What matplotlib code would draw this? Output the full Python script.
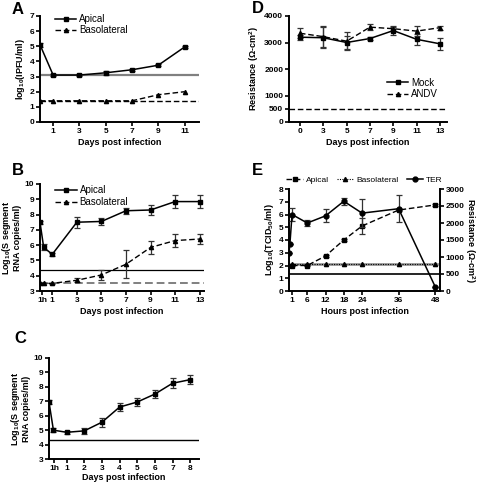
import numpy as np
import matplotlib
matplotlib.use("Agg")
import matplotlib.pyplot as plt

plt.rcParams['font.family'] = ['Liberation Sans', 'DejaVu Sans']
plt.rcParams['font.weight'] = 'bold'
plt.rcParams['axes.labelweight'] = 'bold'
plt.rcParams['mathtext.fontset'] = 'custom'
plt.rcParams['mathtext.rm'] = 'Liberation Sans:bold'
plt.rcParams['mathtext.it'] = 'Liberation Sans:bold'
plt.rcParams['mathtext.bf'] = 'Liberation Sans:bold'
plt.rcParams['mathtext.default'] = 'rm'

# Panel A
a_days = [0, 1, 3, 5, 7, 9, 11]
a_apical = [5.1, 3.1, 3.1, 3.25, 3.45, 3.75, 4.95]
a_apical_err = [0.15, 0.05, 0.05, 0.12, 0.05, 0.05, 0.05]
a_baso = [1.4, 1.4, 1.4, 1.4, 1.4, 1.8, 2.0]
a_limit_apical = 3.1
a_limit_baso = 1.4

# Panel B
b_days = [0, 0.3, 1, 3, 5, 7, 9, 11, 13]
b_apical = [7.5, 5.85, 5.4, 7.5, 7.55, 8.25, 8.3, 8.85, 8.85]
b_apical_err = [0.1, 0.2, 0.1, 0.35, 0.25, 0.2, 0.3, 0.4, 0.4]
b_baso = [3.5, 3.5, 3.5, 3.7, 4.05, 4.75, 5.85, 6.3, 6.4]
b_baso_err = [0.0, 0.0, 0.05, 0.12, 0.35, 0.9, 0.45, 0.45, 0.3]
b_ticks = [0.2, 1, 3, 5, 7, 9, 11, 13]
b_ticklabels = ['1h', '1', '3', '5', '7', '9', '11', '13']
b_limit_apical = 4.35
b_limit_baso = 3.5

# Panel C
c_days = [0, 0.25, 1, 2, 3, 4, 5, 6, 7, 8]
c_vals = [6.95, 5.0, 4.85, 4.95, 5.55, 6.6, 6.95, 7.5, 8.25, 8.5]
c_err = [0.15, 0.15, 0.1, 0.2, 0.3, 0.3, 0.25, 0.3, 0.35, 0.3]
c_ticks = [0.3, 1, 2, 3, 4, 5, 6, 7, 8]
c_ticklabels = ['1h', '1', '2', '3', '4', '5', '6', '7', '8']
c_limit = 4.3

# Panel D
d_days = ['0', '3', '5', '7', '9', '11', '13']
d_mock = [3200, 3180, 3000, 3150, 3450, 3120, 2950]
d_mock_err = [100, 400, 250, 50, 150, 200, 220]
d_andv = [3350, 3220, 3050, 3580, 3520, 3430, 3560]
d_andv_err = [180, 400, 350, 100, 100, 200, 80]
d_limit = 500

# Panel E
e_hours = [1, 6, 12, 18, 24, 36, 48]
e_apical = [2.0, 2.0, 2.75, 4.0, 5.1, 6.35, 6.75]
e_apical_err = [0.05, 0.05, 0.05, 0.05, 0.6, 0.05, 0.05]
e_baso = [2.1, 2.1, 2.1, 2.1, 2.1, 2.1, 2.1]
e_ter_hours = [0, 0.3, 1, 6, 12, 18, 24, 36, 48]
e_ter = [1125, 1390, 2250, 2000, 2210, 2640, 2290, 2420, 130]
e_ter_err = [0, 0, 200, 80, 190, 110, 420, 390, 0]
e_limit_baso = 2.1
e_limit_ter = 500

W, H = 480, 483
fig = plt.figure(figsize=(4.8, 4.83), dpi=100)

LAB = 6.5
LEG = dict(weight='normal', size=7)


def box(x0, x1, y0, y1):
    return [x0 / W, 1 - y1 / H, (x1 - x0) / W, (y1 - y0) / H]


def style(ax, right=False):
    ax.spines['top'].set_visible(False)
    if not right:
        ax.spines['right'].set_visible(False)
    for s in ax.spines.values():
        s.set_linewidth(1.4)
    ax.tick_params(direction='out', length=3, width=1.2, labelsize=6, pad=1.2)
    for lab in ax.get_xticklabels() + ax.get_yticklabels():
        lab.set_fontweight('bold')


def letter(x, y, s):
    fig.text(x / W, 1 - y / H, s, fontsize=12, fontweight='bold', va='top', ha='left')


ek = dict(capsize=2.2, elinewidth=0.9, capthick=0.9, ecolor='#333333')

# ---- A ----
ax = fig.add_axes(box(40, 199, 16, 122))
ax.axhline(a_limit_apical, color='#808080', lw=1.6, zorder=1)
ax.axhline(a_limit_baso, color='black', lw=1.0, ls=(0, (4, 2)), zorder=1)
h1 = ax.errorbar(a_days, a_apical, yerr=a_apical_err, color='black', marker='s', ms=3.5, lw=1.1, **ek)
h2, = ax.plot(a_days, a_baso, color='black', marker='^', ms=3, lw=1.0, ls=(0, (4, 2)))
ax.set_xlim(0, 12.1)
ax.set_ylim(0, 7)
ax.set_xticks([1, 3, 5, 7, 9, 11])
ax.set_yticks(range(0, 8))
ax.set_xlabel('Days post infection', fontsize=LAB, labelpad=2)
ax.set_ylabel('log$_{10}$(IPFU/ml)', fontsize=LAB, labelpad=2)
ax.legend([h1[0], h2], ['Apical', 'Basolateral'], loc='upper left', bbox_to_anchor=(0.04, 1.1),
          frameon=False, handlelength=2.2, labelspacing=0.1, handletextpad=0.3, prop=LEG)
style(ax)

# ---- B ----
ax = fig.add_axes(box(40, 204, 184, 291))
ax.axhline(b_limit_apical, color='black', lw=0.9, zorder=1)
ax.axhline(b_limit_baso, color='#808080', lw=1.4, ls=(0, (4, 2)), zorder=1)
h1 = ax.errorbar(b_days, b_apical, yerr=b_apical_err, color='black', marker='s', ms=3.5, lw=1.1, **ek)
h2 = ax.errorbar(b_days, b_baso, yerr=b_baso_err, color='black', marker='^', ms=3, lw=1.0,
                 ls=(0, (4, 2)), **ek)
ax.set_xlim(0, 13.35)
ax.set_ylim(3, 10)
ax.set_xticks(b_ticks)
ax.set_xticklabels(b_ticklabels)
ax.set_yticks(range(3, 11))
ax.set_xlabel('Days post infection', fontsize=LAB, labelpad=2)
ax.set_ylabel('Log$_{10}$(S segment\nRNA copies/ml)', fontsize=LAB, labelpad=2, linespacing=1.0)
ax.legend([h1[0], h2[0]], ['Apical', 'Basolateral'], loc='upper left', bbox_to_anchor=(0.04, 1.07),
          frameon=False, handlelength=2.2, labelspacing=0.2, handletextpad=0.3, prop=LEG)
style(ax)

# ---- C ----
ax = fig.add_axes(box(49, 199, 358, 459))
ax.axhline(c_limit, color='black', lw=1.0, zorder=1)
ax.errorbar(c_days, c_vals, yerr=c_err, color='black', marker='s', ms=3.5, lw=1.1, **ek)
ax.set_xlim(0, 8.5)
ax.set_ylim(3, 10)
ax.set_xticks(c_ticks)
ax.set_xticklabels(c_ticklabels)
ax.set_yticks(range(3, 11))
ax.set_xlabel('Days post infection', fontsize=LAB, labelpad=1)
ax.set_ylabel('Log$_{10}$(S segment\nRNA copies/ml)', fontsize=LAB, labelpad=2, linespacing=1.0)
style(ax)

# ---- D ----
ax = fig.add_axes(box(289, 447, 16, 122))
xd = np.arange(len(d_days))
ax.axhline(d_limit, color='black', lw=1.0, ls=(0, (4, 2)), zorder=1)
h1 = ax.errorbar(xd, d_mock, yerr=d_mock_err, color='black', marker='s', ms=3.5, lw=1.1, **ek)
h2 = ax.errorbar(xd, d_andv, yerr=d_andv_err, color='black', marker='^', ms=3, lw=1.0,
                 ls=(0, (4, 2)), **ek)
ax.set_xlim(-0.47, 6.3)
ax.set_ylim(0, 4000)
ax.set_xticks(xd)
ax.set_xticklabels(d_days)
ax.set_yticks([0, 500, 1000, 2000, 3000, 4000])
ax.set_xlabel('Days post infection', fontsize=LAB, labelpad=2)
ax.set_ylabel('Resistance (Ω-cm$^2$)', fontsize=LAB, labelpad=2)
ax.legend([h1[0], h2[0]], ['Mock', 'ANDV'], loc='lower right', bbox_to_anchor=(1.0, 0.13),
          frameon=False, handlelength=2.2, labelspacing=0.2, handletextpad=0.3, prop=LEG)
style(ax)

# ---- E ----
ax = fig.add_axes(box(289, 440, 189, 291))
ax2 = ax.twinx()
ax.axhline(e_limit_baso, color='#999999', lw=2.0, zorder=1)
l1 = ax.errorbar(e_hours, e_apical, yerr=e_apical_err, color='black', marker='s', ms=3.5, lw=1.0,
                 ls=(0, (4, 2)), **ek)
l2, = ax.plot(e_hours, e_baso, color='black', marker='^', ms=3, lw=0.8, ls=(0, (1, 1.2)))
ax2.axhline(e_limit_ter, color='black', lw=1.2, zorder=1)
l3 = ax2.errorbar(e_ter_hours, e_ter, yerr=e_ter_err, color='black', marker='o', ms=3.5, lw=1.1, **ek)
ax.set_xlim(0, 49.6)
ax.set_ylim(0, 8)
ax2.set_ylim(0, 3000)
ax.set_xticks([1, 6, 12, 18, 24, 36, 48])
ax.set_yticks(range(0, 9))
ax2.set_yticks([0, 500, 1000, 1500, 2000, 2500, 3000])
ax.set_xlabel('Hours post infection', fontsize=LAB, labelpad=2)
ax.set_ylabel('Log$_{10}$(TCID$_{50}$/ml)', fontsize=LAB, labelpad=2)
ax2.set_ylabel('Resistance (Ω-cm$^2$)', fontsize=LAB, rotation=270, va='center', ha='center')
ax2.yaxis.set_label_coords(1.2, 0.5)
ax.legend([l1[0], l2, l3[0]], ['Apical', 'Basolateral', 'TER'], loc='lower center',
          bbox_to_anchor=(0.5, 1.0), ncol=3, frameon=False, handlelength=2.0,
          columnspacing=1.0, handletextpad=0.3, borderaxespad=0.2, prop=dict(weight='normal', size=6))
style(ax)
ax.spines['right'].set_visible(False)
style(ax2, right=True)
ax2.spines['left'].set_visible(False)
ax2.spines['bottom'].set_visible(False)

letter(12, 2, 'A')
letter(12, 163, 'B')
letter(14, 331, 'C')
letter(252, 1, 'D')
letter(252, 163, 'E')

fig.savefig('out.png', dpi=100)
